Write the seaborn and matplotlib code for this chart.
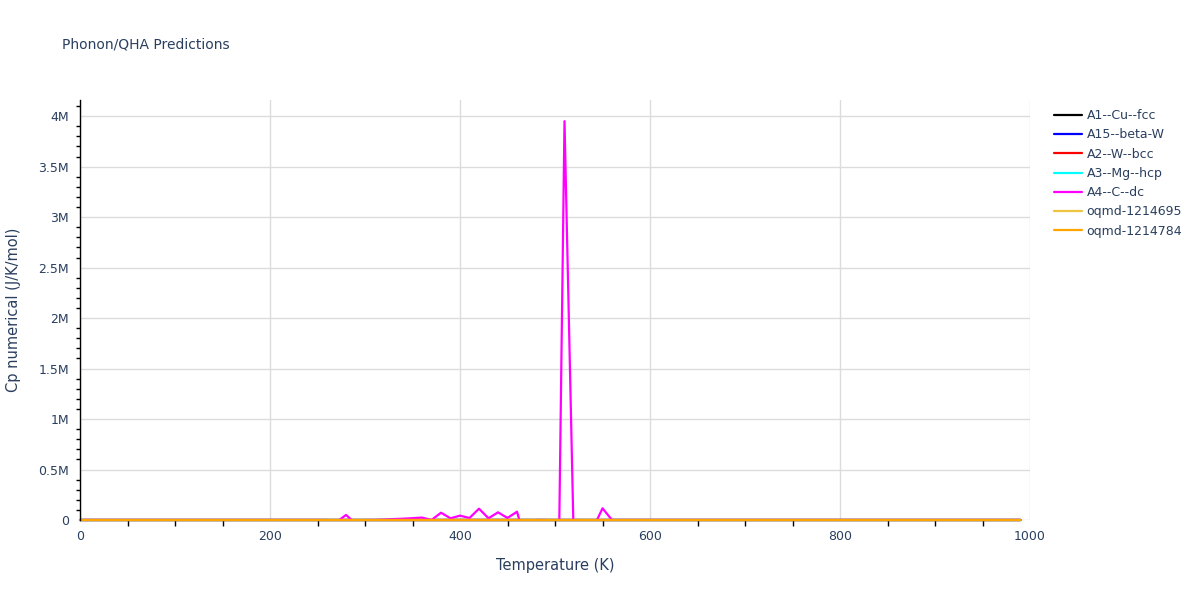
import seaborn as sns
import matplotlib.pyplot as plt
from matplotlib.ticker import FuncFormatter, MultipleLocator
import pandas as pd
import numpy as np

# temperature grid (K)
temps = list(range(0, 1000, 10))
temps_coarse = [0, 100, 200, 300, 400, 500, 600, 700, 800, 900, 990]

# Cp numerical (J/K/mol)
a1_cu_fcc = [0, 16.1, 22.5, 24.3, 24.9, 25.3, 25.6, 25.9, 26.2, 26.5, 26.8]
a15_beta_w = [0, 14.8, 21.7, 23.8, 24.6, 25.0, 25.3, 25.5, 25.7, 25.9, 26.1]
a2_w_bcc = [0, 17.9, 23.3, 24.5, 25.0, 25.3, 25.5, 25.7, 25.9, 26.1, 26.3]
a3_mg_hcp = [0, 15.2, 22.0, 23.9, 24.7, 25.2, 25.6, 26.0, 26.4, 26.8, 27.2]
oqmd_1214695 = [0, 13.5, 20.9, 23.4, 24.4, 24.9, 25.2, 25.4, 25.6, 25.8, 26.0]
oqmd_1214784 = [0, 12.8, 20.4, 23.1, 24.2, 24.8, 25.1, 25.3, 25.5, 25.7, 25.9]
a4_c_dc = ([0] * 27 +
           [-21000, 50000, -33000, 0, 0, 4000, 9000, 13000, 18000, 24000, 0,
            72000, 17000, 43000, 20000, 112000, 17000, 76000, 20000, 82000,
            -250000, 0, 0, -3300000, 3950000, -320000, 0, -84000, 116000, 0] +
           [0] * 43)

names = ['A1--Cu--fcc', 'A15--beta-W', 'A2--W--bcc', 'A3--Mg--hcp', 'A4--C--dc',
         'oqmd-1214695', 'oqmd-1214784']
colors = ['black', 'blue', 'red', 'cyan', 'magenta', '#eec33d', 'orange']

frames = []
for name, t, v in [(names[0], temps_coarse, a1_cu_fcc),
                   (names[1], temps_coarse, a15_beta_w),
                   (names[2], temps_coarse, a2_w_bcc),
                   (names[3], temps_coarse, a3_mg_hcp),
                   (names[4], temps, a4_c_dc),
                   (names[5], temps_coarse, oqmd_1214695),
                   (names[6], temps_coarse, oqmd_1214784)]:
    frames.append(pd.DataFrame({'T': t, 'Cp': v, 'name': name}))
df = pd.concat(frames, ignore_index=True)

text_color = '#2a3f5f'
sns.set_style('white')
plt.rcParams['font.family'] = ['DejaVu Sans']

fig = plt.figure(figsize=(12, 6), dpi=100)
ax = fig.add_axes([80 / 1200, 80 / 600, 950 / 1200, 420 / 600])

sns.lineplot(data=df, x='T', y='Cp', hue='name', hue_order=names,
             palette=dict(zip(names, colors)), linewidth=1.6, ax=ax,
             estimator=None, sort=False)

# lines that sit on the zero baseline should not be cut in half by the clip box
for line in ax.get_lines():
    if line.get_label() != 'A4--C--dc' and line.get_color() != 'magenta':
        line.set_clip_on(False)

ax.set_xlim(0, 1000)
ax.set_ylim(0, 4.16e6)
ax.xaxis.set_major_locator(MultipleLocator(200))
ax.xaxis.set_minor_locator(MultipleLocator(50))
ax.yaxis.set_major_locator(MultipleLocator(5e5))
ax.yaxis.set_minor_locator(MultipleLocator(1e5))


def fmt_m(v, pos):
    if v == 0:
        return '0'
    return '{:g}M'.format(v / 1e6)


ax.yaxis.set_major_formatter(FuncFormatter(fmt_m))
ax.grid(True, which='major', color='#dcdcdc', linewidth=1)
ax.set_axisbelow(True)

for s in ['top', 'right', 'bottom']:
    ax.spines[s].set_visible(False)
ax.spines['left'].set_color('black')
ax.spines['left'].set_linewidth(1)

ax.tick_params(axis='x', which='major', direction='out', length=5, width=1,
               color='#bbbbbb', labelsize=9, labelcolor=text_color, pad=2)
ax.tick_params(axis='x', which='minor', direction='out', length=4, width=1,
               color='black', bottom=True)
ax.tick_params(axis='y', which='major', direction='out', length=5, width=1,
               color='black', labelsize=9, labelcolor=text_color, pad=3)
ax.tick_params(axis='y', which='minor', direction='out', length=3, width=1,
               color='black', left=True)

ax.set_xlabel('Temperature (K)', fontsize=10.5, color=text_color, labelpad=11)
ax.set_ylabel('Cp numerical (J/K/mol)', fontsize=10.5, color=text_color, labelpad=12)
fig.text(62 / 1200, 1 - 45 / 600, 'Phonon/QHA Predictions', fontsize=10,
         color=text_color, va='center')

ax.legend(loc='upper left', bbox_to_anchor=(1.02, 0.99), frameon=False,
          fontsize=9, labelcolor=text_color, handlelength=2.2,
          labelspacing=0.5, handletextpad=0.4, borderaxespad=0)

fig.savefig('out.png', dpi=100)
